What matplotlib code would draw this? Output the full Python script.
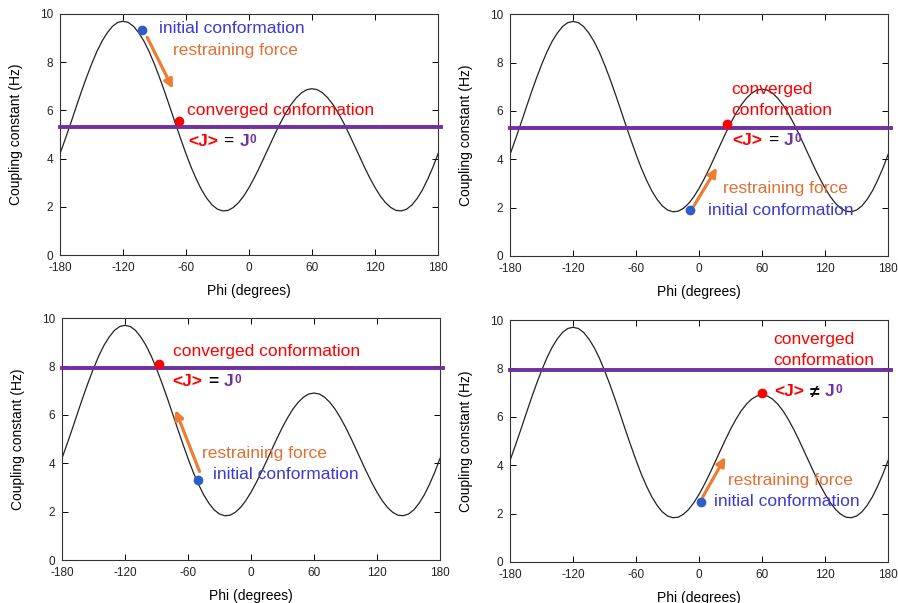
import matplotlib
matplotlib.use("Agg")
import matplotlib.pyplot as plt

plt.rcParams['font.family'] = ['Liberation Sans', 'DejaVu Sans']
plt.rcParams['axes.unicode_minus'] = False

# Karplus curve (every 5 degrees)
phi = list(range(-180, 181, 5))
j_curve = [4.2, 4.81, 5.44, 6.09, 6.73, 7.34, 7.91, 8.43, 8.87, 9.22, 9.49, 9.65,
           9.7, 9.65, 9.49, 9.22, 8.87, 8.43, 7.91, 7.34, 6.73, 6.09, 5.44, 4.81,
           4.2, 3.63, 3.13, 2.69, 2.34, 2.07, 1.9, 1.83, 1.85, 1.97, 2.17, 2.45,
           2.8, 3.2, 3.64, 4.11, 4.58, 5.05, 5.49, 5.89, 6.24, 6.52, 6.73, 6.86,
           6.9, 6.86, 6.73, 6.52, 6.24, 5.89, 5.49, 5.05, 4.58, 4.11, 3.64, 3.2,
           2.8, 2.45, 2.17, 1.97, 1.85, 1.83, 1.9, 2.07, 2.34, 2.69, 3.13, 3.63, 4.2]

# per panel: target J0, initial point, converged point, arrow (start, end)
j_target = [5.3, 5.3, 7.95, 7.95]
init_phi = [-102, -9, -50, 2]
init_j = [9.32, 1.9, 3.3, 2.46]
conv_phi = [-67, 27, -88, 60]
conv_j = [5.55, 5.47, 8.1, 7.0]
arrow_from = [(-97, 9.03), (-5, 2.07), (-49, 3.66), (3.5, 2.69)]
arrow_to = [(-72.5, 6.9), (17, 3.65), (-72, 6.2), (25, 4.34)]

xticks = [-180, -120, -60, 0, 60, 120, 180]
yticks = [0, 2, 4, 6, 8, 10]

RED = '#FF0000'
BLUE_TXT = '#3B3BCF'
BLUE_DOT = '#2D5DC6'
ORANGE = '#ED7D31'
ORANGE_TXT = '#E07035'
PURPLE = '#7030A0'
FS = 12.5

fig = plt.figure(figsize=(8.98, 6.03), dpi=100)
rects = [
    [0.0668, 0.5771, 0.421, 0.3997],
    [0.568, 0.5755, 0.421, 0.401],
    [0.069, 0.0713, 0.421, 0.4013],
    [0.568, 0.068, 0.421, 0.4013],
]


def j_label(ax, x, y, op, op_bold):
    t1 = ax.text(x, y, "<J>", color=RED, fontweight='bold', fontsize=FS,
                 va='center', ha='left')
    t2 = ax.annotate(op, xy=(1, 0.5), xycoords=t1, xytext=(4, 0),
                     textcoords='offset points', va='center', ha='left',
                     fontsize=FS, color='black',
                     fontweight='bold' if op_bold else 'normal')
    t3 = ax.annotate("J", xy=(1, 0.5), xycoords=t2, xytext=(4, 0),
                     textcoords='offset points', va='center', ha='left',
                     fontsize=FS, color=PURPLE, fontweight='bold')
    ax.annotate("0", xy=(1, 1), xycoords=t3, xytext=(0.5, 0),
                textcoords='offset points', va='top', ha='left',
                fontsize=8.5, color=PURPLE, fontweight='bold')


axes = []
for i in range(4):
    ax = fig.add_axes(rects[i])
    axes.append(ax)
    ax.plot(phi, j_curve, color='#222222', lw=0.9)
    ax.axhline(j_target[i], xmin=0, xmax=1.008, color=PURPLE, lw=2.8, clip_on=False, zorder=3)
    ax.set_xlim(-180, 180)
    ax.set_ylim(0, 10)
    ax.set_xticks(xticks)
    ax.set_yticks(yticks)
    ax.tick_params(direction='in', top=True, right=True, length=4, width=0.7,
                   labelsize=8.5, labelcolor='#222222', pad=5)
    for s in ax.spines.values():
        s.set_linewidth(0.8)
        s.set_color('#333333')
    ax.set_xlabel("Phi (degrees)", fontsize=10, labelpad=7)
    ax.set_ylabel("Coupling constant (Hz)", fontsize=10, labelpad=12)
    ax.annotate("", xy=arrow_to[i], xytext=arrow_from[i],
                arrowprops=dict(arrowstyle='-|>', color=ORANGE, lw=2.3,
                                mutation_scale=13, shrinkA=0, shrinkB=0),
                zorder=4)
    ax.plot(init_phi[i], init_j[i], 'o', color=BLUE_DOT, ms=6, zorder=5)
    ax.plot(conv_phi[i], conv_j[i], 'o', color=RED, ms=6, zorder=5)

# panel 1
ax = axes[0]
ax.text(-86, 9.38, "initial conformation", color=BLUE_TXT, fontsize=FS, va='center')
ax.text(-72, 8.5, "restraining force", color=ORANGE_TXT, fontsize=FS, va='center')
ax.text(-59, 6.0, "converged conformation", color=RED, fontsize=FS, va='center')
j_label(ax, -58, 4.7, "=", False)

# panel 2
ax = axes[1]
ax.text(31, 6.43, "converged\nconformation", color=RED, fontsize=FS, va='center',
        linespacing=1.5)
j_label(ax, 32, 4.79, "=", False)
ax.text(22.6, 2.8, "restraining force", color=ORANGE_TXT, fontsize=FS, va='center')
ax.text(8.3, 1.9, "initial conformation", color=BLUE_TXT, fontsize=FS, va='center')

# panel 3
ax = axes[2]
ax.text(-74.7, 8.62, "converged conformation", color=RED, fontsize=FS, va='center')
j_label(ax, -74.7, 7.38, "=", True)
ax.text(-46.2, 4.41, "restraining force", color=ORANGE_TXT, fontsize=FS, va='center')
ax.text(-36.6, 3.55, "initial conformation", color=BLUE_TXT, fontsize=FS, va='center')

# panel 4
ax = axes[3]
ax.text(71, 8.75, "converged\nconformation", color=RED, fontsize=FS, va='center',
        linespacing=1.5)
j_label(ax, 71.6, 7.03, "\u2260", True)
ax.text(27.2, 3.38, "restraining force", color=ORANGE_TXT, fontsize=FS, va='center')
ax.text(13.8, 2.51, "initial conformation", color=BLUE_TXT, fontsize=FS, va='center')

fig.savefig("out.png", dpi=100)
